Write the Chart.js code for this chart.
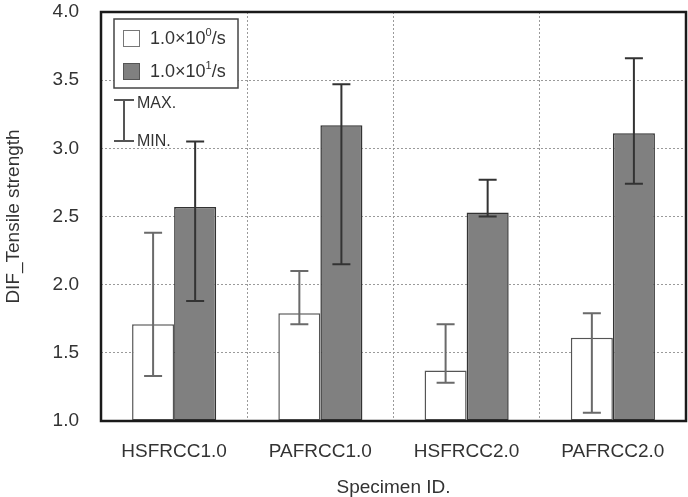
<!DOCTYPE html>
<html>
<head>
<meta charset="utf-8">
<script src="https://cdn.jsdelivr.net/npm/chart.js@4/dist/chart.umd.min.js"></script>
<style>
html,body{margin:0;padding:0;background:#fff;}
#wrap{width:688px;height:497px;}
</style>
</head>
<body>
<div id="wrap"><canvas id="c" width="688" height="497"></canvas></div>
<script>
const categories = ["HSFRCC1.0", "PAFRCC1.0", "HSFRCC2.0", "PAFRCC2.0"];
const seriesLabels = ["1.0×10⁰/s", "1.0×10¹/s"];
const lowRateMean = [1.71, 1.79, 1.37, 1.61];
const lowRateMax  = [2.38, 2.10, 1.71, 1.79];
const lowRateMin  = [1.33, 1.71, 1.28, 1.06];
const highRateMean = [2.57, 3.17, 2.53, 3.11];
const highRateMax  = [3.05, 3.47, 2.77, 3.66];
const highRateMin  = [1.88, 2.15, 2.50, 2.74];
const yTicks = [1.0, 1.5, 2.0, 2.5, 3.0, 3.5, 4.0];
const xTitle = "Specimen ID.";
const yTitle = "DIF_Tensile strength";
const rangeLabels = ["MAX.", "MIN."];

const FONT = "'Liberation Sans', Arial, sans-serif";
const TXT = "#333";
const errMax = [lowRateMax, highRateMax];
const errMin = [lowRateMin, highRateMin];
const errColor = ["#6a6a6a", "#333"];

function drawSupText(ctx, str, x, y, size) {
  const supMap = {"⁰":"0","¹":"1","²":"2","³":"3"};
  let cx = x;
  for (const ch of str) {
    if (supMap[ch]) {
      ctx.font = Math.round(size*0.62) + "px " + FONT;
      ctx.fillText(supMap[ch], cx, y - size*0.33);
      cx += ctx.measureText(supMap[ch]).width;
    } else {
      ctx.font = size + "px " + FONT;
      ctx.fillText(ch, cx, y);
      cx += ctx.measureText(ch).width;
    }
  }
}

const overlay = {
  id: "overlay",
  afterDatasetsDraw(chart) {
    const ctx = chart.ctx;
    const ys = chart.scales.y;
    const a = chart.chartArea;
    ctx.save();
    chart.data.datasets.forEach((ds, i) => {
      const meta = chart.getDatasetMeta(i);
      ctx.strokeStyle = errColor[i];
      ctx.lineWidth = 2;
      meta.data.forEach((el, j) => {
        const x = el.x;
        const y1 = ys.getPixelForValue(errMax[i][j]);
        const y2 = ys.getPixelForValue(errMin[i][j]);
        ctx.beginPath();
        ctx.moveTo(x, y1); ctx.lineTo(x, y2);
        ctx.moveTo(x - 9, y1); ctx.lineTo(x + 9, y1);
        ctx.moveTo(x - 9, y2); ctx.lineTo(x + 9, y2);
        ctx.stroke();
      });
    });
    ctx.strokeStyle = "#1a1a1a";
    ctx.lineWidth = 2.5;
    ctx.strokeRect(a.left, a.top, a.right - a.left, a.bottom - a.top);
    const lx = a.left + 13, ly = a.top + 7;
    ctx.fillStyle = "#fff";
    ctx.fillRect(lx, ly, 124, 69);
    ctx.strokeStyle = "#444";
    ctx.lineWidth = 1.5;
    ctx.strokeRect(lx, ly, 124, 69);
    const fills = ["#ffffff", "#808080"];
    const borders = ["#777", "#555"];
    for (let k = 0; k < 2; k++) {
      const sy = ly + 11 + k * 33;
      ctx.fillStyle = fills[k];
      ctx.fillRect(lx + 9, sy, 17, 17);
      ctx.strokeStyle = borders[k];
      ctx.lineWidth = 1;
      ctx.strokeRect(lx + 9.5, sy + 0.5, 16, 16);
      ctx.fillStyle = TXT;
      ctx.textBaseline = "middle";
      ctx.textAlign = "left";
      drawSupText(ctx, seriesLabels[k], lx + 36, sy + 9, 18);
    }
    const ix = a.left + 23;
    const iy1 = a.top + 88, iy2 = a.top + 129;
    ctx.strokeStyle = "#555";
    ctx.lineWidth = 2;
    ctx.beginPath();
    ctx.moveTo(ix, iy1); ctx.lineTo(ix, iy2);
    ctx.moveTo(ix - 10, iy1); ctx.lineTo(ix + 10, iy1);
    ctx.moveTo(ix - 10, iy2); ctx.lineTo(ix + 10, iy2);
    ctx.stroke();
    ctx.fillStyle = TXT;
    ctx.font = "16px " + FONT;
    ctx.textBaseline = "middle";
    ctx.fillText(rangeLabels[0], ix + 13, iy1 + 4);
    ctx.fillText(rangeLabels[1], ix + 13, iy2 + 1);
    ctx.restore();
  }
};

new Chart(document.getElementById("c"), {
  type: "bar",
  data: {
    labels: categories,
    datasets: [
      { label: seriesLabels[0], data: lowRateMean, base: 1.0, backgroundColor: "#ffffff", borderColor: "#555", borderWidth: 1.5, borderSkipped: false },
      { label: seriesLabels[1], data: highRateMean, base: 1.0, backgroundColor: "#808080", borderColor: "#333", borderWidth: 1.5, borderSkipped: false }
    ]
  },
  options: {
    responsive: false,
    animation: false,
    devicePixelRatio: 1,
    layout: { padding: { left: 0, right: 2, top: 12, bottom: 0 } },
    datasets: { bar: { barPercentage: 1.0, categoryPercentage: 0.575 } },
    plugins: { legend: { display: false }, tooltip: { enabled: false } },
    scales: {
      x: {
        grid: { color: "#9a9a9a", lineWidth: 1, drawTicks: false, offset: true },
        border: { display: false, dash: [2, 2] },
        ticks: { color: TXT, font: { family: FONT, size: 19 }, padding: 19, maxRotation: 0 },
        title: { display: true, text: xTitle, color: TXT, font: { family: FONT, size: 19, lineHeight: 1 }, padding: 0 },
        afterFit(s) { s.height = 76; s.paddingLeft = 0; s.paddingRight = 0; }
      },
      y: {
        min: 1.0, max: 4.0,
        afterBuildTicks(s) { s.ticks = yTicks.map(v => ({ value: v })); },
        grid: { color: "#9a9a9a", lineWidth: 1, drawTicks: false },
        border: { display: false, dash: [2, 2] },
        ticks: { color: TXT, font: { family: FONT, size: 19 }, padding: 22, callback: v => Number(v).toFixed(1) },
        title: { display: true, text: yTitle, color: TXT, font: { family: FONT, size: 19, lineHeight: 1.2 }, padding: { top: 2, bottom: 0 } },
        afterFit(s) { s.width = 101; s.paddingTop = 0; s.paddingBottom = 0; }
      }
    }
  },
  plugins: [overlay]
});
</script>
</body>
</html>
